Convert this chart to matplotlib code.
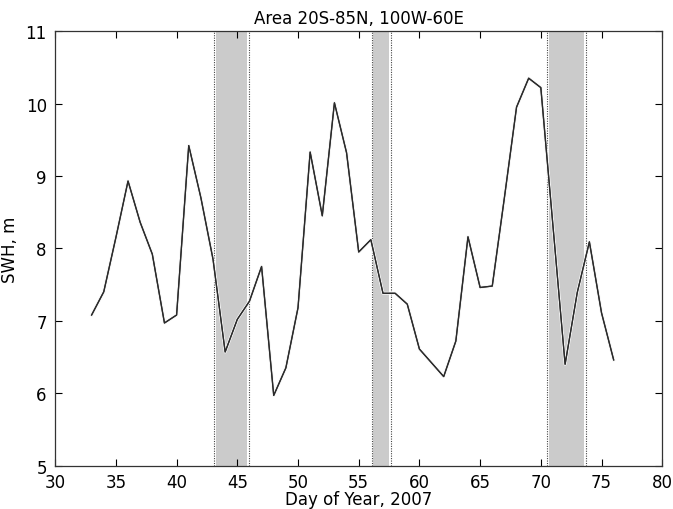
from matplotlib import pyplot as plt
from matplotlib import patheffects
import matplotlib

matplotlib.rcParams['font.family'] = ['DejaVu Sans']

days = list(range(33, 77))
swh = [
    7.08, 7.40, 8.15, 8.93, 8.36, 7.92, 6.97, 7.08, 9.42, 8.70,
    7.85, 6.57, 7.02, 7.27, 7.75, 5.97, 6.35, 7.18, 9.33, 8.45,
    10.01, 9.32, 7.95, 8.12, 7.38, 7.38, 7.23, 6.61, 6.42, 6.23,
    6.72, 8.16, 7.46, 7.48, 8.70, 9.95, 10.35, 10.22, 8.31, 6.40,
    7.39, 8.09, 7.11, 6.46,
]

# shaded periods (day of year)
band_starts = [43.06, 56.06, 70.49]
band_ends = [45.94, 57.62, 73.70]


def main():
    fig = plt.figure(figsize=(6.73, 5.10), dpi=100)
    ax = fig.add_axes([0.082, 0.085, 0.902, 0.852])

    for x0, x1 in zip(band_starts, band_ends):
        ax.axvspan(x0 + 0.15, x1 - 0.15, color='#cbcbcb', lw=0, zorder=1)
        ax.axvline(x0, color='#444444', ls=(0, (1, 1.2)), lw=0.8, zorder=2)
        ax.axvline(x1, color='#444444', ls=(0, (1, 1.2)), lw=0.8, zorder=2)

    ax.plot(days, swh, color='#2a2a2a', lw=0.9, zorder=3,
            path_effects=[patheffects.withStroke(linewidth=2.2,
                                                 foreground='#f4f4f4'),
                          patheffects.Normal()])

    ax.set_xlim(30, 80)
    ax.set_ylim(5, 11)
    ax.set_xticks(range(30, 81, 5))
    ax.set_yticks(range(5, 12))
    ax.tick_params(direction='in', top=True, right=True, length=5,
                   width=0.8, labelsize=12)
    ax.tick_params(axis='x', pad=5.5)
    ax.tick_params(axis='y', pad=6)
    for s in ax.spines.values():
        s.set_linewidth(0.9)
        s.set_color('#333333')

    ax.set_xlabel('Day of Year, 2007', fontsize=12, labelpad=-1)
    ax.set_ylabel('SWH, m', fontsize=12, labelpad=5)
    ax.set_title('Area 20S-85N, 100W-60E', fontsize=12, pad=6)

    fig.savefig('out.png', dpi=100)


if __name__ == '__main__':
    main()
